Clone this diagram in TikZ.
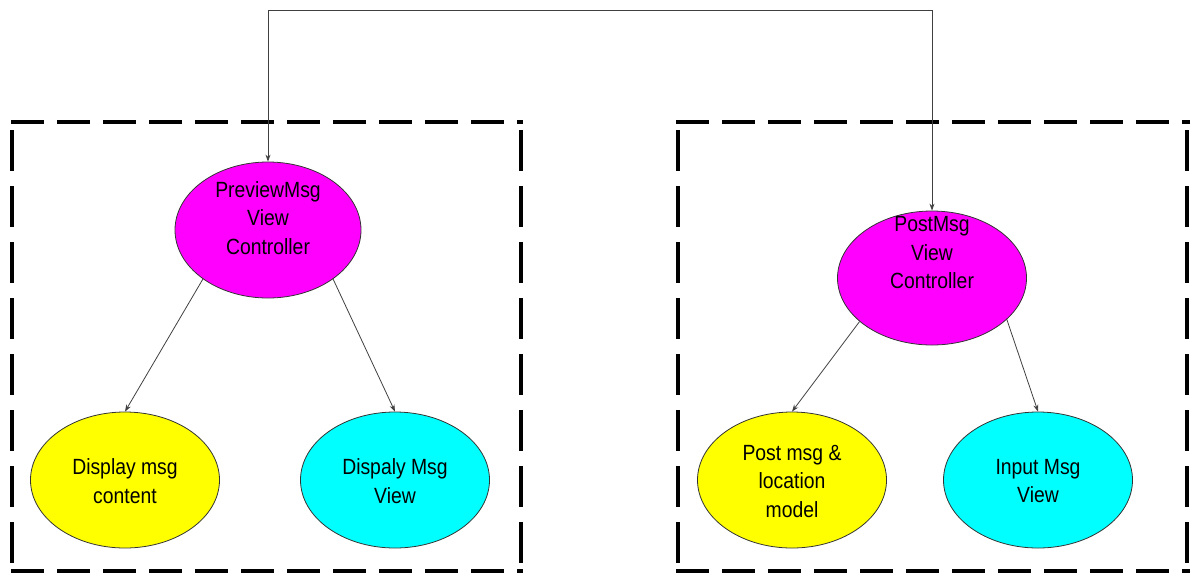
\documentclass[tikz,border=0pt]{standalone}
\usepackage{fontspec}
\setmainfont{Liberation Sans}[FakeStretch=0.88]
\usetikzlibrary{arrows.meta,shapes.geometric}
\definecolor{ctlmag}{RGB}{255,0,255}
\definecolor{mdlyel}{RGB}{255,255,0}
\definecolor{viewcyan}{RGB}{0,255,255}
\tikzset{
  ell/.style={ellipse, draw=black!80, line width=0.8pt, minimum width=189pt, minimum height=136pt, inner sep=0pt},
  txt/.style={align=center, font=\fontsize{22}{28.5}\selectfont, inner sep=0pt},
  conn/.style={draw=black!75, line width=0.8pt, -{Stealth[length=7pt,width=5pt]}},
  hdash/.style={line width=4.5pt, dash pattern=on 33pt off 13pt},
  vdash/.style={line width=4.5pt, dash pattern=on 41pt off 15pt},
}
\begin{document}
\begin{tikzpicture}[x=1pt,y={(0pt,-1pt)}]
\useasboundingbox (0,0) rectangle (1190,574);
% dashed boxes
\draw[hdash] (11,122) -- (523,122);
\draw[hdash] (11,571) -- (523,571);
\draw[vdash] (12,130) -- (12,571);
\draw[vdash] (521,130) -- (521,571);
\draw[hdash] (676,122) -- (1190,122);
\draw[hdash] (676,571) -- (1190,571);
\draw[vdash] (678,130) -- (678,571);
\draw[vdash] (1187,130) -- (1187,571);
% nodes
\node[ell, fill=ctlmag, minimum width=186pt] (pv) at (268,230) {};
\node[txt] (pvt) at (268,218) {PreviewMsg\\View\\Controller};
\node[ell, fill=ctlmag, minimum height=134pt] (pm) at (932,278) {};
\node[txt] (pmt) at (932,253) {PostMsg\\View\\Controller};
\node[ell, fill=mdlyel] (dc) at (125,480) {};
\node[txt] (dct) at (125,481) {Display msg\\content};
\node[ell, fill=viewcyan] (dv) at (395,480) {};
\node[txt] (dvt) at (395,481) {Dispaly Msg\\View};
\node[ell, fill=mdlyel] (pl) at (792,480) {};
\node[txt] (plt) at (792,481) {Post msg \&\\location\\model};
\node[ell, fill=viewcyan] (iv) at (1038,480) {};
\node[txt] (ivt) at (1038,481) {Input Msg\\View};
% connectors
\coordinate (tl) at (268,10);
\coordinate (tr) at (932,10);
\draw[conn, {Stealth[length=7pt,width=5pt]}-{Stealth[length=7pt,width=5pt]}] (pv.north) -- (tl) -- (tr) -- (pm.north);
\draw[conn] (pv.217) -- (dc.north);
\draw[conn] (pv.323) -- (dv.north);
\draw[conn] (pm.211) -- (pl.north);
\draw[conn] (pm.331) -- (iv.north);
\end{tikzpicture}
\end{document}
